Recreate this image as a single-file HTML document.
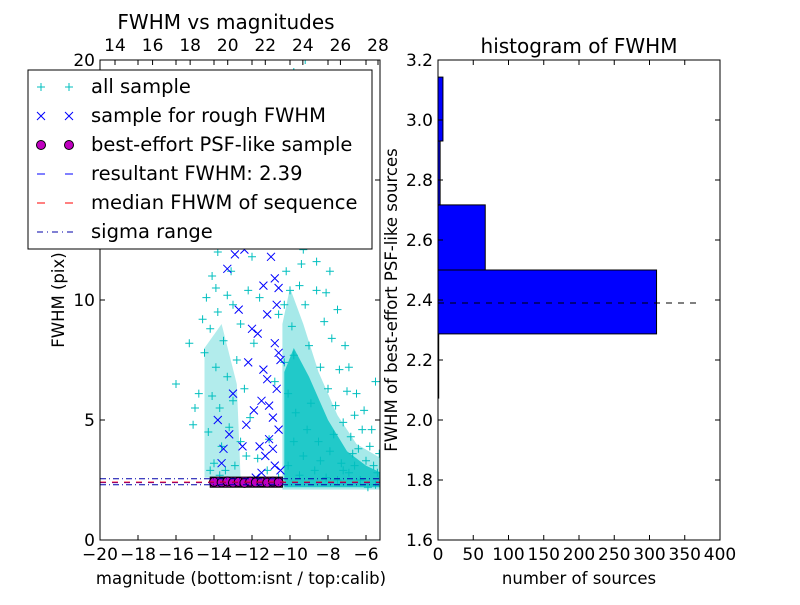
<!DOCTYPE html>
<html><head><meta charset="utf-8"><style>
body{margin:0;background:#fff;}
svg{font-family:"DejaVu Sans","Liberation Sans",sans-serif;}
</style></head><body>
<svg id="c" width="800" height="600" viewBox="0 0 800 600">
<rect width="800" height="600" fill="#fff"/>
<g id="L"></g><g id="R"></g>
</svg>
<script>
// ---- left panel data ----
const xTicksBottom=[-20,-18,-16,-14,-12,-10,-8,-6];
const xTicksTop=[14,16,18,20,22,24,26,28];
const yTicksLeft=[0,5,10,15,20];
const allSample=[[-14.3,4.5],[-14.1,6],[-13.9,7.2],[-13.7,5.5],[-13.5,8.3],[-13.3,6.8],[-13.8,9.5],[-14,3.2],[-13.6,3.9],[-13.2,4.7],[-13,5.8],[-12.8,7.5],[-12.6,9],[-12.4,6.3],[-12.9,3.1],[-13.4,2.9],[-14.2,8.8],[-13.9,10.5],[-13.1,11.2],[-12.7,12.3],[-13.5,13.5],[-12.2,14],[-11.8,16],[-11,18.5],[-12.5,17],[-13.2,15.5],[-14.5,7.8],[-14.8,6.1],[-15.1,4.8],[-13.7,2.7],[-12.3,3.5],[-12.1,5.1],[-11.9,8.2],[-11.6,10.1],[-11.3,12.5],[-11.1,4.2],[-10.8,6.6],[-10.6,9.4],[-10.4,13],[-10.2,15.5],[-10,17.8],[-9.8,19.5],[-9.6,14.2],[-9.4,11.5],[-9.2,9.8],[-9,8.1],[-8.8,12.7],[-8.6,10.4],[-8.4,7.2],[-8.2,9.1],[-8,6.3],[-7.8,8.4],[-7.6,5.6],[-7.4,7.1],[-7.2,4.9],[-7,6.2],[-6.8,4.3],[-6.6,5.2],[-6.4,3.8],[-6.2,4.6],[-6,3.3],[-5.8,3.9],[-5.6,3.1],[-5.4,2.8],[-5.5,6.6],[-6.7,3.6],[-7.3,3.2],[-7.9,3.7],[-8.5,4.1],[-9.1,4.6],[-9.7,5.3],[-10.1,6.1],[-10.3,7.4],[-9.9,8.9],[-9.5,10.6],[-9.3,12.1],[-8.9,14.6],[-8.7,16.2],[-9.1,18.1],[-8.3,13.4],[-7.9,11.2],[-7.5,9.6],[-7.1,8.1],[-6.9,7.2],[-6.5,6.1],[-6.1,5.4],[-5.7,4.6],[-5.3,3.6],[-10.1,3.1],[-9.5,2.7],[-8.7,2.9],[-8.1,2.6],[-7.5,2.5],[-6.9,2.8],[-6.3,2.5],[-5.9,2.2],[-5.5,2.3],[-10.6,2.6],[-11.2,2.9],[-11.7,3.4],[-12.6,4.1],[-13,9.8],[-12,11.8],[-11.5,14.5],[-10.9,16.8],[-10.5,19],[-9.2,20],[-12.8,18.8],[-13.8,12],[-14.1,11],[-15.3,8.2],[-16,6.5],[-9.8,4.1],[-9.3,3.5],[-8.9,5.7],[-8.4,3.3],[-7.7,4.4],[-7.2,2.9],[-6.6,3.1],[-10.2,11.2],[-9.9,12.6],[-9.6,16.8],[-10.3,9.8],[-9.7,13.7],[-9.4,15.1],[-8.6,11.6],[-8.1,10.3],[-10,10.4],[-9.8,7.7],[-14.4,10.1],[-13.9,13.4],[-13.3,12.7],[-14.6,9.2],[-15,5.5],[-12.2,10.4],[-12.9,15.1],[-14.2,2.9],[-13.3,10.2]];
const roughSample=[[-11.5,2.8],[-11.3,3.5],[-11.1,4.2],[-10.9,5.1],[-10.7,6.3],[-11.4,7.1],[-10.8,8.2],[-11.2,9.4],[-10.6,10.5],[-11,11.8],[-10.9,13.2],[-11.3,12.6],[-10.7,9.8],[-11.5,5.8],[-10.6,4.6],[-11.6,3.9],[-10.8,3.1],[-11.2,6.7],[-10.5,7.5],[-11.7,8.6],[-13.8,5],[-13.5,3.8],[-13.2,4.4],[-12.7,9.6],[-12.9,11.9],[-12.4,12.1],[-13.6,3.2],[-12.5,3.9],[-12.2,7.4],[-12,8.8],[-11.9,5.4],[-10.5,2.9],[-11.8,2.6],[-12.3,4.8],[-13,6.1],[-10.8,10.9],[-11,14.2],[-10.6,7.8],[-11.1,5.6],[-10.9,3.8],[-11.4,10.6],[-12.8,13.6],[-13.3,11.3]];
const bestSample=[[-14,2.42],[-13.6,2.4],[-13.3,2.44],[-13,2.39],[-12.7,2.42],[-12.4,2.38],[-12.1,2.43],[-11.8,2.4],[-11.5,2.41],[-11.2,2.39],[-10.9,2.43],[-10.6,2.4]];
const resultFWHM=2.39, medianFWHM=2.41, sigmaLo=2.3, sigmaHi=2.55;
// ---- right panel data ----
const binEdges=[2.073,2.287,2.5,2.717,2.93,3.143];
const binCounts=[1,310,67,3,7];
const xTicksRight=[0,50,100,150,200,250,300,350,400];
const yTicksRight=[1.6,1.8,2.0,2.2,2.4,2.6,2.8,3.0,3.2];

const NS="http://www.w3.org/2000/svg";
function mk(p,tag,attrs,name){const e=document.createElementNS(NS,tag);for(const k in attrs)e.setAttribute(k,attrs[k]);


p.appendChild(e);return e;}
function txt(p,x,y,s,name,anchor,size,rot){const t=mk(p,'text',{x:x,y:y,'font-size':size||17,'text-anchor':anchor||'middle',fill:'#000'},name);if(rot)t.setAttribute('transform',`rotate(-90 ${x} ${y})`);t.textContent=s;return t;}

const L=document.getElementById('L');
const lx=v=>100+(v+20)*19, ly=v=>540-v*24, tx=v=>115+(v-14)*(263/14);
const clip=mk(L,'clipPath',{id:'cl'},'left-clip');mk(clip,'rect',{x:100,y:60,width:280,height:480},'clip-rect');
const pl=mk(L,'g',{'clip-path':'url(#cl)'},'left-plot-area');
const poly=(pts,op,name)=>mk(pl,'polygon',{points:pts.map(p=>lx(p[0])+','+ly(p[1])).join(' '),fill:'#00c0c0',opacity:op},name);
poly([[-10.4,2.1],[-10.4,9],[-10,10.5],[-9.3,9],[-8.5,7],[-7.5,5.2],[-6.5,4],[-5.2,3.4],[-5.2,2.1]],0.35,'sparse-region');
poly([[-10.3,2.2],[-10.3,7],[-9.8,8],[-9,6.8],[-8,5],[-7,3.7],[-6,3.1],[-5.2,2.8],[-5.2,2.2]],0.8,'dense-region');
poly([[-14.5,2.6],[-14.5,8],[-13.6,9],[-12.8,6.5],[-12.6,2.6]],0.3,'left-column-region');
allSample.forEach(p=>{const x=lx(p[0]),y=ly(p[1]);mk(pl,'path',{d:`M${x-4},${y}h8M${x},${y-4}v8`,stroke:'#00bfbf','stroke-width':1},'all-sample-point');});
roughSample.forEach(p=>{const x=lx(p[0]),y=ly(p[1]);mk(pl,'path',{d:`M${x-4},${y-4}l8,8M${x-4},${y+4}l8,-8`,stroke:'#0000ff','stroke-width':1},'rough-sample-point');});
mk(pl,'rect',{x:lx(-14.2),y:ly(2.62),width:lx(-10.4)-lx(-14.2),height:ly(2.2)-ly(2.62),fill:'#bf00bf',stroke:'#000'},'best-sample-band');
bestSample.forEach(p=>mk(pl,'circle',{cx:lx(p[0]),cy:ly(p[1]),r:4.5,fill:'#bf00bf',stroke:'#000'},'best-sample-point'));
mk(pl,'line',{x1:100,x2:380,y1:ly(resultFWHM),y2:ly(resultFWHM),stroke:'#0000ff','stroke-dasharray':'6,6'},'resultant-fwhm-line');
mk(pl,'line',{x1:100,x2:380,y1:ly(medianFWHM),y2:ly(medianFWHM),stroke:'#ff0000','stroke-dasharray':'6,6'},'median-fwhm-line');
[sigmaLo,sigmaHi].forEach(v=>mk(pl,'line',{x1:100,x2:380,y1:ly(v),y2:ly(v),stroke:'#0000aa','stroke-dasharray':'6,3,1,3'},'sigma-range-line'));
mk(L,'rect',{x:100,y:60,width:280,height:480,fill:'none',stroke:'#000'},'left-axes-frame');
xTicksBottom.forEach(v=>{const x=lx(v);mk(L,'path',{d:`M${x},540v-5M${x},60v5`,stroke:'#000'},'x-tick');txt(L,x,560,'\u2212'+Math.abs(v),'x-tick-label');});
xTicksTop.forEach(v=>{const x=tx(v);mk(L,'path',{d:`M${x},60v5`,stroke:'#000'},'top-x-tick');txt(L,x,51,String(v),'top-x-tick-label');});
yTicksLeft.forEach(v=>{const y=ly(v);mk(L,'path',{d:`M100,${y}h5M380,${y}h-5`,stroke:'#000'},'y-tick');txt(L,95,y+6,String(v),'y-tick-label','end');});
txt(L,226,29,'FWHM vs magnitudes','left-title','middle',20);
txt(L,241,584,'magnitude (bottom:isnt / top:calib)','x-axis-title',null,16.5);
txt(L,64,300,'FWHM (pix)','y-axis-title','middle',16.5,true);
const lg=mk(L,'g',{},'legend');
mk(lg,'rect',{x:28,y:70,width:344,height:179,fill:'#fff',stroke:'#000'},'legend-box');
const labels=['all sample','sample for rough FWHM','best-effort PSF-like sample','resultant FWHM: 2.39','median FHWM of sequence','sigma range'];
labels.forEach((s,i)=>{const y=87+i*29;
 if(i==0)[41,69].forEach(x=>mk(lg,'path',{d:`M${x-4},${y}h8M${x},${y-4}v8`,stroke:'#00bfbf'},'legend-marker'));
 if(i==1)[41,69].forEach(x=>mk(lg,'path',{d:`M${x-4},${y-4}l8,8M${x-4},${y+4}l8,-8`,stroke:'#0000ff'},'legend-marker'));
 if(i==2)[41,69].forEach(x=>mk(lg,'circle',{cx:x,cy:y,r:4.5,fill:'#bf00bf',stroke:'#000'},'legend-marker'));
 if(i==3)mk(lg,'line',{x1:37,x2:73,y1:y,y2:y,stroke:'#0000ff','stroke-dasharray':'8,20'},'legend-line');
 if(i==4)mk(lg,'line',{x1:37,x2:73,y1:y,y2:y,stroke:'#ff0000','stroke-dasharray':'8,20'},'legend-line');
 if(i==5)mk(lg,'line',{x1:37,x2:73,y1:y,y2:y,stroke:'#0000aa','stroke-dasharray':'6,4,1,4'},'legend-line');
 txt(lg,91,y+6,s,'legend-entry','start',19.5);});

const R=document.getElementById('R');
const rx=v=>438+v*(282/400), ry=v=>540-(v-1.6)*300;
for(let i=0;i<binCounts.length;i++){mk(R,'rect',{x:438,y:ry(binEdges[i+1]),width:rx(binCounts[i])-438,height:ry(binEdges[i])-ry(binEdges[i+1]),fill:'#0000ff',stroke:'#000'},'hist-bar');}
mk(R,'line',{x1:438,x2:698,y1:ry(resultFWHM),y2:ry(resultFWHM),stroke:'#000','stroke-dasharray':'6,6'},'hist-fwhm-line');
mk(R,'rect',{x:438,y:60,width:282,height:480,fill:'none',stroke:'#000'},'right-axes-frame');
xTicksRight.forEach(v=>{const x=rx(v);mk(R,'path',{d:`M${x},540v-5M${x},60v5`,stroke:'#000'},'x-tick');txt(R,x,560,String(v),'x-tick-label');});
yTicksRight.forEach(v=>{const y=ry(v);mk(R,'path',{d:`M438,${y}h5M720,${y}h-5`,stroke:'#000'},'y-tick');txt(R,433,y+6,v.toFixed(1),'y-tick-label','end');});
txt(R,579,53,'histogram of FWHM','right-title','middle',20);
txt(R,579,584,'number of sources','x-axis-title',null,16.5);
txt(R,397,300,'FWHM of best-effort PSF-like sources','y-axis-title','middle',16.5,true);
</script>
</body></html>
